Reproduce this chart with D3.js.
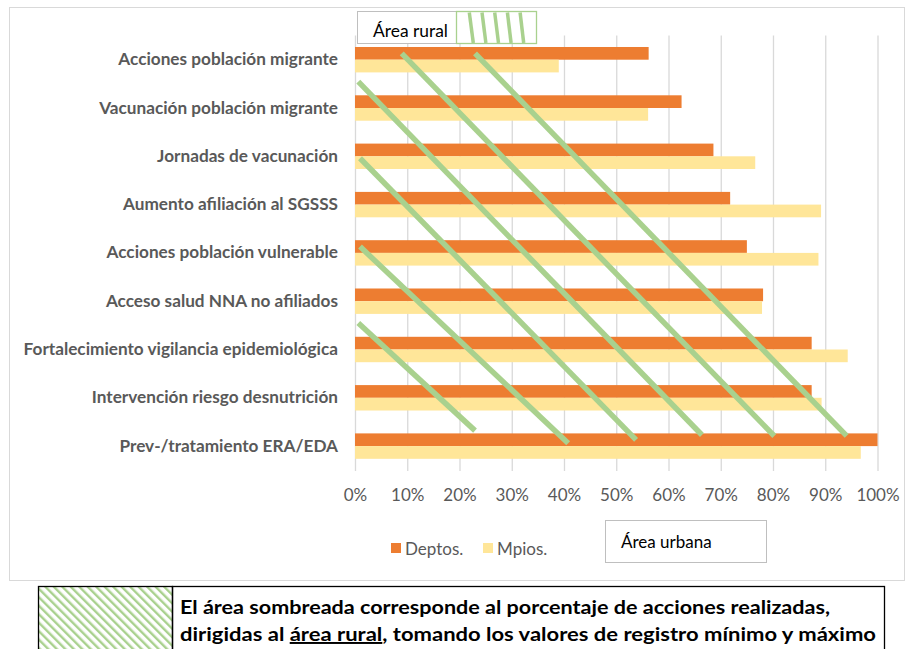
<!DOCTYPE html>
<html><head><meta charset="utf-8">
<script src="https://cdn.jsdelivr.net/npm/d3@7"></script>
<style>body{margin:0;background:#fff}svg{display:block}text{font-family:Lato,"Open Sans",sans-serif}</style>
</head><body><svg id="c" width="906" height="649"></svg>
<script>
const categories = ["Acciones población migrante","Vacunación población migrante","Jornadas de vacunación","Aumento afiliación al SGSSS","Acciones población vulnerable","Acceso salud NNA no afiliados","Fortalecimiento vigilancia epidemiológica","Intervención riesgo desnutrición","Prev-/tratamiento ERA/EDA"];
const seriesNames = ["Deptos.","Mpios."];
const deptos = [56.2, 62.5, 68.6, 71.8, 75.0, 78.1, 87.4, 87.4, 100];
const mpios = [39.0, 56.1, 76.6, 89.2, 88.7, 77.9, 94.3, 89.3, 96.8];
const ticks = [0,10,20,30,40,50,60,70,80,90,100];
// rural-area hatch annotation lines: [x1 %, row-pos1, x2 %, row-pos2] (row-pos in category bands from top)
const ruralLines = [[0.63,5.95,22.97,8.18],[0.96,4.37,40.8,8.44],[0.96,2.54,53.8,8.37],[0.63,0.955,66.4,8.27],[8.94,0.37,80.25,8.29],[22.97,0.37,94.1,8.29]];
const colors = ["#ED7D31","#FFE699"];
const green = "#A9D18E";

const svg = d3.select("#c");
svg.append("rect").attr("x",9.5).attr("y",7.5).attr("width",895).attr("height",573).attr("fill","#fff").attr("stroke","#d9d9d9");

const x = d3.scaleLinear().domain([0,100]).range([355,877.5]);
const y = d3.scaleBand().domain(categories).range([35.55,470.25]).paddingInner(0.474).paddingOuter(0.237);
const ys = d3.scaleBand().domain(seriesNames).range([0,y.bandwidth()]);
const yPos = d3.scaleLinear().domain([0,9]).range([35.55,470.25]);

// gridlines
svg.append("g").selectAll("line").data(ticks).join("line")
  .attr("x1",d=>x(d)+0.5).attr("x2",d=>x(d)+0.5).attr("y1",35.5).attr("y2",471)
  .attr("stroke","#d9d9d9").attr("stroke-width",1.3);

// x tick labels
const xa = d3.axisBottom(x).tickValues(ticks).tickFormat(d=>d+"%").tickSize(0).tickPadding(0);
const gx = svg.append("g").attr("transform","translate(0,489)").call(xa);
gx.select(".domain").remove();
gx.selectAll("text").attr("fill","#595959").style("font-size","17px").attr("dy","0.71em");

// bars
const rows = categories.map((c,i)=>({c, v:[deptos[i], mpios[i]]}));
const g = svg.append("g");
rows.forEach(r=>{
  r.v.forEach((v,j)=>{
    g.append("rect").attr("x",x(0)).attr("y",y(r.c)+ys(seriesNames[j]))
      .attr("width",x(v)-x(0)).attr("height",ys.bandwidth()).attr("fill",colors[j]);
  });
});

// category labels
const ya = d3.axisLeft(y).tickSize(0).tickPadding(0);
const gy = svg.append("g").attr("transform","translate(338,0)").call(ya);
gy.select(".domain").remove();
gy.selectAll("text").attr("fill","#595959").style("font-size","17.2px").style("font-weight","bold");

// rural annotation lines
svg.append("g").selectAll("line").data(ruralLines).join("line")
  .attr("x1",d=>x(d[0])).attr("y1",d=>yPos(d[1])).attr("x2",d=>x(d[2])).attr("y2",d=>yPos(d[3]))
  .attr("stroke",green).attr("stroke-width",5.5);

// top legend "Área rural"
svg.append("rect").attr("x",357.5).attr("y",11.5).attr("width",99).attr("height",32).attr("fill","#fff").attr("stroke","#bfbfbf");
svg.append("text").attr("x",373).attr("y",37).attr("fill","#000").style("font-size","17.4px").text("Área rural");
svg.append("rect").attr("x",456.5).attr("y",11.5).attr("width",80).attr("height",32).attr("fill","#fff").attr("stroke",green).attr("stroke-width",1.3);
svg.append("g").selectAll("line").data([0,1,2,3,4]).join("line")
  .attr("x1",d=>469.3+d*12.7).attr("y1",12.5).attr("x2",d=>473.3+d*12.6).attr("y2",43)
  .attr("stroke",green).attr("stroke-width",3.5);

// series legend
const lg = svg.append("g");
[[391,seriesNames[0],colors[0]],[483,seriesNames[1],colors[1]]].forEach(([lx,t,c])=>{
  lg.append("rect").attr("x",lx).attr("y",543).attr("width",10).attr("height",10).attr("fill",c);
  lg.append("text").attr("x",lx+14).attr("y",554.5).attr("fill","#595959").style("font-size","17px").text(t);
});

// "Área urbana" box
svg.append("rect").attr("x",605.5).attr("y",520.5).attr("width",161).attr("height",42).attr("fill","#fff").attr("stroke","#bfbfbf");
svg.append("text").attr("x",621).attr("y",548).attr("fill","#000").style("font-size","17px").text("Área urbana");

// bottom note box
const defs = svg.append("defs");
const pat = defs.append("pattern").attr("id","hatch").attr("patternUnits","userSpaceOnUse")
  .attr("width",6).attr("height",6).attr("patternTransform","rotate(-45)");
pat.append("rect").attr("width",6).attr("height",6).attr("fill","#fff");
pat.append("rect").attr("x",0).attr("y",0).attr("width",2.4).attr("height",6).attr("fill",green);
svg.append("rect").attr("x",38.5).attr("y",586.5).attr("width",134).attr("height",80).attr("fill","url(#hatch)").attr("stroke","#000").attr("stroke-width",1.3);
svg.append("rect").attr("x",172.5).attr("y",586.5).attr("width",712).attr("height",80).attr("fill","none").attr("stroke","#000").attr("stroke-width",1.3);
svg.append("text").attr("x",180).attr("y",614).attr("fill","#000").style("font-size","19.5px").style("font-weight","bold")
  .attr("textLength",650).attr("lengthAdjust","spacingAndGlyphs")
  .text("El área sombreada corresponde al porcentaje de acciones realizadas,");
const t2 = svg.append("text").attr("x",180).attr("y",641).attr("fill","#000").style("font-size","19.5px").style("font-weight","bold")
  .attr("textLength",696).attr("lengthAdjust","spacingAndGlyphs");
t2.append("tspan").text("dirigidas al ");
t2.append("tspan").style("text-decoration","underline").text("área rural");
t2.append("tspan").text(", tomando los valores de registro mínimo y máximo");
</script></body></html>
